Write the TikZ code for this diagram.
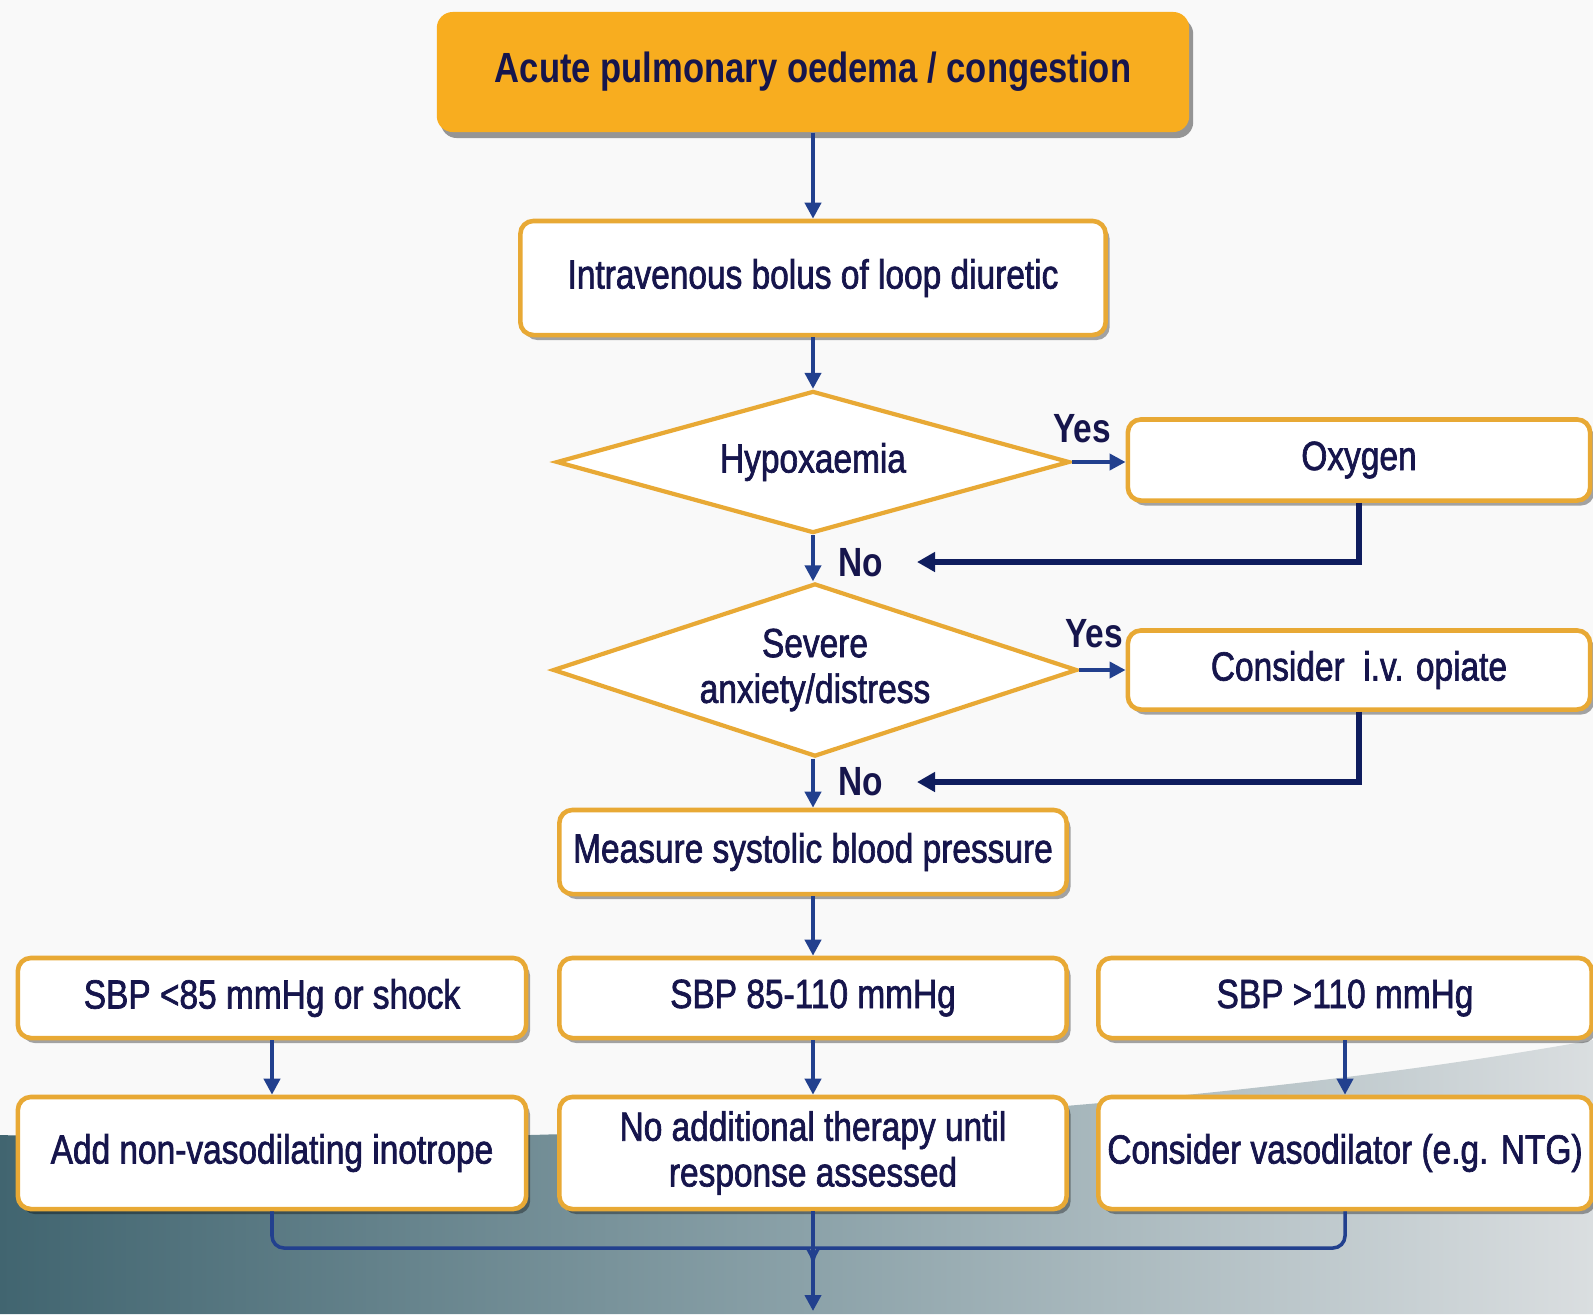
\documentclass[tikz,border=0pt]{standalone}
\usepackage{fontspec}
\setmainfont[FakeStretch=0.82]{Liberation Sans}
\newfontfamily\boxfont[FakeStretch=0.82,FakeBold=1.6]{Liberation Sans}
\usetikzlibrary{shapes.geometric,arrows.meta,shadows}
\definecolor{navytext}{HTML}{16154C}
\definecolor{boxborder}{HTML}{E8A935}
\definecolor{toporange}{HTML}{F8AD1F}
\definecolor{arrowblue}{HTML}{22408E}
\definecolor{darknavy}{HTML}{0F1D5E}
\definecolor{bgslate}{HTML}{416570}
\definecolor{bgmid}{HTML}{8AA1A8}
\definecolor{bglight}{HTML}{DADEE0}
\tikzset{
  basefont/.style={font=\boxfont\fontsize{11.6}{13}\selectfont},
  box/.style={draw=boxborder, line width=1.3pt, fill=white, rounded corners=0.13cm,
    drop shadow={shadow xshift=0.04cm, shadow yshift=-0.05cm, fill=black, opacity=0.35},
    text=navytext, basefont, align=center, inner sep=0pt},
  topbox/.style={fill=toporange, rounded corners=0.16cm,
    drop shadow={shadow xshift=0.04cm, shadow yshift=-0.06cm, fill=black, opacity=0.4},
    text=navytext, font=\fontsize{12}{14}\selectfont\bfseries, align=center, inner sep=0pt},
  decision/.style={diamond, aspect=3, draw=boxborder, line width=1.2pt, fill=white,
    text=navytext, basefont, align=center, inner sep=0pt},
  flow/.style={draw=arrowblue, line width=1.1pt, -{Triangle[width=0.16cm,length=0.16cm]}},
  back/.style={draw=darknavy, line width=1.6pt, -{Triangle[width=0.19cm,length=0.18cm]}},
  bracket/.style={draw=arrowblue, line width=1pt, rounded corners=0.12cm},
  lbl/.style={text=navytext, font=\fontsize{11.6}{13}\selectfont\bfseries}
}
\begin{document}
\begin{tikzpicture}[x=0.01cm,y=-0.01cm]
\path[use as bounding box, fill=gray!5] (0,0) rectangle (1593,1314);
% background swoosh
\path[left color=bgslate, right color=bglight, middle color=bgmid]
  (0,1135) .. controls (500,1150) and (1150,1120) .. (1593,1040) -- (1593,1314) -- (0,1314) -- cycle;

\node[topbox, minimum width=7.52cm, minimum height=1.2cm] (top) at (813,72) {Acute pulmonary oedema / congestion};
\node[box, minimum width=5.85cm, minimum height=1.14cm] (iv) at (813,278) {Intravenous bolus of loop diuretic};
\node[decision, minimum width=5.13cm, minimum height=1.42cm] (hyp) at (813,462) {Hypoxaemia};
\node[box, minimum width=4.62cm, minimum height=0.81cm] (oxy) at (1359,460) {Oxygen};
\node[decision, minimum width=5.24cm, minimum height=1.73cm] (anx) at (815,670) {Severe\\anxiety/distress};
\node[box, minimum width=4.62cm, minimum height=0.79cm] (opi) at (1359,670) {Consider~ i.v. opiate};
\node[box, minimum width=5.07cm, minimum height=0.84cm] (msbp) at (813,852) {Measure systolic blood pressure};
\node[box, minimum width=5.08cm, minimum height=0.80cm] (low) at (272,998) {SBP <85 mmHg or shock};
\node[box, minimum width=5.07cm, minimum height=0.80cm] (mid) at (813,998) {SBP 85-110 mmHg};
\node[box, minimum width=4.93cm, minimum height=0.80cm] (high) at (1345,998) {SBP >110 mmHg};
\node[box, minimum width=5.08cm, minimum height=1.12cm] (inot) at (272,1153) {Add non-vasodilating inotrope};
\node[box, minimum width=5.07cm, minimum height=1.12cm] (noadd) at (813,1153) {No additional therapy until\\response assessed};
\node[box, minimum width=4.93cm, minimum height=1.12cm] (vaso) at (1345,1153) {Consider vasodilator (e.g. NTG)};

\node[lbl] (yes1) at (1082,429) {Yes};
\node[lbl] (no1l) at (861,563) {No};
\node[lbl] (yes2) at (1094,634) {Yes};
\node[lbl] (no2l) at (861,782) {No};

\coordinate (no1) at (917,562);
\coordinate (no2) at (917,782);
\coordinate (join) at (813,1248);
\coordinate (final) at (813,1311);

\draw[flow] (top.south) -- (iv.north);
\draw[flow] (iv.south) -- (hyp.north);
\draw[flow] (hyp.south) -- (anx.north -| hyp.south);
\draw[flow] (anx.south -| msbp.north) -- (msbp.north);
\draw[flow] (msbp.south) -- (mid.north);
\draw[flow] (hyp.east) -- (hyp.east -| oxy.west);
\draw[flow] (anx.east) -- (anx.east -| opi.west);
\draw[back] (oxy.south) |- (no1);
\draw[back] (opi.south) |- (no2);
\draw[flow] (low.south) -- (inot.north);
\draw[flow] (mid.south) -- (noadd.north);
\draw[flow] (high.south) -- (vaso.north);
\draw[bracket] (inot.south) |- ([xshift=-0.16cm]join) to[out=0,in=90] ([yshift=-0.14cm]join);
\draw[bracket] (vaso.south) |- ([xshift=0.16cm]join) to[out=180,in=90] ([yshift=-0.14cm]join);
\draw[flow, line width=1.2pt] (noadd.south) -- (final);
\end{tikzpicture}
\end{document}
